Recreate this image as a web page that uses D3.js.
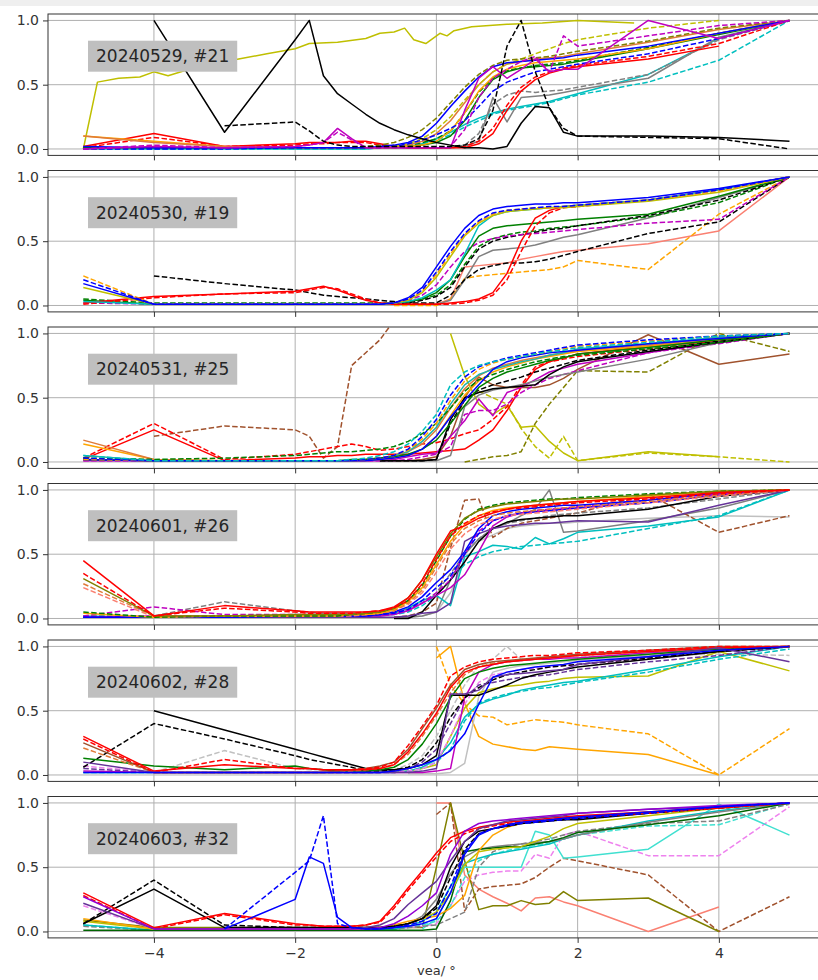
<!DOCTYPE html>
<html><head><meta charset="utf-8">
<script src="https://cdn.jsdelivr.net/npm/d3@7"></script>
<style>body{margin:0;background:#fff}svg{display:block}</style>
</head><body>
<svg id="chart" width="818" height="980"></svg>
<script>
const _ = null;

// shared sample positions (deg) for every curve
const xGrid = [-5,-4,-3,-2,-1.8,-1.6,-1.4,-1.2,-1,-0.8,-0.6,-0.4,-0.2,0,0.2,0.4,0.6,0.8,1,1.2,1.4,1.6,1.8,2,3,4,5];
const panelTitles = ["20240529, #21","20240530, #19","20240531, #25","20240601, #26","20240602, #28","20240603, #32"];
const xTicks = [-4,-2,0,2,4];
const yTicks = [0,0.5,1];
const xLabel = "vea/ °";

// densely sampled outlier curve of the first run
const run1YellowX = [-5,-4.8,-4.5,-4.2,-4,-3.8,-3.5,-3.2,-2.8,-2.4,-2,-1.8,-1.4,-1,-0.8,-0.6,-0.45,-0.32,-0.15,0.05,0.15,0.25,0.5,1,1.5,2,2.4,2.8];
const run1YellowY = [0.0,0.52,0.55,0.56,0.6,0.57,0.62,0.66,0.7,0.74,0.78,0.82,0.83,0.86,0.9,0.91,0.94,0.85,0.82,0.9,0.88,0.92,0.95,0.97,0.98,1.0,0.99,0.98];

const run1 = [
  ["c--",[0,0,0,0,0,0,0,0,0,0.01,0.01,0.02,0.04,0.07,0.11,0.17,0.22,0.27,0.3,0.32,0.34,0.36,0.39,0.42,0.52,0.69,1.0]],
  ["c-", [0,0,0,0,0,0,0,0,0,0.01,0.01,0.02,0.04,0.08,0.13,0.19,0.24,0.28,0.31,0.33,0.35,0.37,0.4,0.43,0.58,0.86,1.0]],
  ["gr--",[_,_,_,_,_,_,_,_,_,_,0.01,0.01,0.01,0.01,0.01,0.03,0.12,0.35,0.42,0.45,0.44,0.45,0.46,0.48,0.58,0.85,1.0]],
  ["gr-",[_,_,_,_,_,_,_,_,_,_,0.01,0.01,0.01,0.01,0.01,0.02,0.06,0.4,0.21,0.4,0.41,0.42,0.44,0.46,0.55,0.87,1.0]],
  ["r--",[0.01,0.09,0.02,0.03,0.04,0.04,0.05,0.05,0.05,0.03,0.02,0.01,0.01,0.01,0.01,0.02,0.06,0.16,0.34,0.48,0.56,0.6,0.63,0.65,0.72,0.82,1.0]],
  ["r-", [0.02,0.12,0.02,0.04,0.05,0.05,0.05,0.06,0.06,0.04,0.02,0.01,0.01,0.01,0.01,0.01,0.04,0.12,0.3,0.45,0.54,0.59,0.62,0.64,0.7,0.8,_]],
  ["g--",[0.01,0.01,0.01,0.01,0.01,0.01,0.01,0.01,0.01,0.01,0.02,0.03,0.05,0.08,0.14,0.28,0.44,0.55,0.61,0.63,0.65,0.66,0.67,0.69,0.79,0.9,1.0]],
  ["g-", [0.01,0.01,0.01,0.01,0.01,0.01,0.01,0.01,0.01,0.01,0.01,0.02,0.03,0.05,0.1,0.22,0.4,0.54,0.6,0.63,0.64,0.65,0.66,0.68,0.78,0.89,1.0]],
  ["o-", [0.1,0.06,0.02,0.01,0.01,0.01,0.01,0.01,0.01,0.01,0.01,0.02,0.03,0.06,0.14,0.28,0.45,0.56,0.62,0.65,0.67,0.68,0.69,0.7,0.78,0.9,1.0]],
  ["pe-",[0.1,0.05,0.02,0.01,0.01,0.01,0.01,0.01,0.01,0.01,0.02,0.03,0.06,0.12,0.22,0.36,0.5,0.6,0.66,0.68,0.7,0.71,0.72,0.74,0.83,0.93,1.0]],
  ["y--",[_,_,_,_,_,_,_,_,_,_,0.02,0.04,0.08,0.15,0.25,0.38,0.5,0.6,0.66,0.7,0.74,0.78,0.82,0.85,0.94,1.0,_]],
  ["ol--",[0.0,0.01,0.01,0.01,0.01,0.01,0.01,0.01,0.02,0.03,0.05,0.09,0.15,0.24,0.36,0.48,0.58,0.65,0.69,0.7,0.71,0.72,0.74,0.76,0.84,0.94,1.0]],
  ["b--",[0,0,0,0.01,0.01,0.01,0.01,0.01,0.01,0.01,0.02,0.04,0.07,0.11,0.16,0.22,0.33,0.45,0.52,0.56,0.6,0.62,0.64,0.66,0.74,0.86,1.0]],
  ["b-", [0.02,0.01,0.01,0.01,0.01,0.01,0.01,0.01,0.01,0.02,0.03,0.05,0.1,0.2,0.33,0.45,0.56,0.64,0.67,0.68,0.69,0.7,0.71,0.73,0.8,0.9,1.0]],
  ["m--",[0.0,0.03,0.01,0.02,0.03,0.05,0.13,0.07,0.01,0.01,0.01,0.01,0.01,0.01,0.02,0.15,0.4,0.55,0.62,0.68,0.72,0.6,0.88,0.8,0.88,0.96,1.0]],
  ["m-", [0.0,0.02,0.01,0.02,0.03,0.05,0.16,0.08,0.01,0.01,0.01,0.01,0.01,0.01,0.01,0.3,0.55,0.64,0.55,0.62,0.7,0.6,0.62,0.62,1.0,0.86,1.0]],
  ["k--",[_,_,0.18,0.21,0.14,0.06,0.03,0.02,0.02,0.02,0.02,0.02,0.02,0.02,0.02,0.03,0.08,0.3,0.8,1.0,0.6,0.32,0.16,0.1,0.09,0.08,0.0]],
  ["k-", [_,1.0,0.13,0.85,1.0,0.57,0.43,0.35,0.27,0.2,0.15,0.11,0.08,0.05,0.03,0.01,0.01,0.0,0.02,0.2,0.33,0.32,0.13,0.1,0.1,0.09,0.06]]
];

const run2 = [
  ["sa-",[_,_,_,_,_,_,_,_,_,_,0.01,0.01,0.01,0.01,0.05,0.3,0.31,0.32,0.33,0.36,0.38,0.4,0.42,0.43,0.48,0.58,1.0]],
  ["o--",[_,_,_,_,_,_,_,_,_,_,0.0,0.0,0.0,0.0,0.05,0.21,0.23,0.24,0.25,0.26,0.27,0.28,0.3,0.35,0.28,0.71,1.0]],
  ["gr-",[_,_,_,_,_,_,_,_,_,_,0.01,0.01,0.01,0.01,0.04,0.2,0.38,0.43,0.44,0.45,0.47,0.5,0.53,0.55,0.68,0.84,1.0]],
  ["k--",[_,0.23,0.17,0.12,0.1,0.08,0.07,0.06,0.05,0.04,0.03,0.02,0.02,0.02,0.08,0.2,0.28,0.31,0.33,0.33,0.34,0.36,0.39,0.42,0.56,0.65,1.0]],
  ["g--",[0.05,0.02,0.02,0.02,0.02,0.02,0.02,0.02,0.02,0.02,0.02,0.03,0.05,0.08,0.16,0.32,0.46,0.52,0.55,0.57,0.58,0.6,0.61,0.62,0.69,0.8,1.0]],
  ["k--",[_,_,_,_,_,_,_,_,_,_,0.01,0.02,0.04,0.07,0.14,0.3,0.44,0.5,0.53,0.55,0.57,0.59,0.6,0.62,0.7,0.82,1.0]],
  ["m--",[0.02,0.01,0.01,0.01,0.01,0.01,0.01,0.01,0.01,0.01,0.02,0.04,0.08,0.16,0.3,0.42,0.49,0.52,0.54,0.55,0.56,0.57,0.58,0.59,0.64,0.67,1.0]],
  ["g-", [0.04,0.01,0.01,0.01,0.01,0.01,0.01,0.01,0.01,0.01,0.02,0.03,0.05,0.1,0.2,0.38,0.54,0.6,0.62,0.63,0.64,0.65,0.66,0.67,0.71,0.85,1.0]],
  ["r--",[0.01,0.06,0.09,0.1,0.12,0.14,0.13,0.09,0.05,0.02,0.01,0.01,0.01,0.01,0.01,0.02,0.04,0.08,0.2,0.42,0.62,0.72,0.76,0.77,0.82,0.9,1.0]],
  ["r-", [0.02,0.07,0.09,0.11,0.13,0.15,0.12,0.08,0.04,0.02,0.01,0.01,0.01,0.01,0.02,0.03,0.05,0.1,0.25,0.5,0.68,0.74,0.77,0.78,0.82,0.9,1.0]],
  ["c-", [0.03,0.01,0.01,0.01,0.01,0.01,0.01,0.01,0.01,0.01,0.02,0.03,0.06,0.12,0.2,0.4,0.62,0.7,0.73,0.74,0.75,0.76,0.77,0.78,0.82,0.9,1.0]],
  ["y-", [0.14,0.01,0.01,0.01,0.01,0.01,0.01,0.01,0.01,0.01,0.02,0.04,0.1,0.22,0.38,0.54,0.64,0.7,0.73,0.74,0.75,0.76,0.76,0.77,0.81,0.88,1.0]],
  ["o--",[0.23,0.01,0.01,0.01,0.01,0.01,0.01,0.01,0.01,0.01,0.02,0.05,0.11,0.24,0.4,0.55,0.65,0.71,0.74,0.75,0.76,0.76,0.77,0.78,0.82,0.89,1.0]],
  ["b--",[0.2,0.01,0.01,0.01,0.01,0.01,0.01,0.01,0.01,0.01,0.02,0.05,0.12,0.26,0.42,0.56,0.66,0.72,0.74,0.75,0.76,0.77,0.77,0.78,0.82,0.9,1.0]],
  ["b-", [0.17,0.01,0.01,0.01,0.01,0.01,0.01,0.01,0.01,0.01,0.02,0.06,0.14,0.3,0.46,0.6,0.7,0.75,0.77,0.78,0.79,0.79,0.8,0.8,0.84,0.91,1.0]]
];

const run3 = [
  ["br--",[_,0.2,0.28,0.25,0.2,0.03,0.12,0.75,0.85,0.95,1.1,1.3,_,_,_,_,_,_,_,_,_,_,_,_,_,_,_]],
  ["y-", [_,_,_,_,_,_,_,_,_,_,_,_,_,_,1.0,0.67,0.45,0.37,0.44,0.27,0.28,0.16,0.07,0.01,0.08,0.04,_]],
  ["y--",[_,_,_,_,_,_,_,_,_,_,_,_,_,_,_,_,0.55,0.5,0.45,0.26,0.12,0.03,0.2,0.01,0.07,0.04,0.0]],
  ["ol--",[_,_,_,_,_,_,_,_,_,_,_,_,_,_,_,0.0,0.02,0.04,0.05,0.08,0.3,0.45,0.58,0.71,0.7,1.0,0.86]],
  ["br-",[_,_,_,_,_,_,_,_,_,_,0.01,0.01,0.02,0.04,0.2,0.5,0.66,0.6,0.58,0.58,0.58,0.6,0.65,0.72,0.99,0.76,0.84]],
  ["r--",[0.03,0.3,0.02,0.06,0.08,0.1,0.12,0.14,0.12,0.09,0.1,0.12,0.14,0.15,0.18,0.22,0.25,0.33,0.43,0.6,0.74,0.78,0.8,0.82,0.88,0.93,1.0]],
  ["r-", [0.02,0.25,0.01,0.03,0.04,0.04,0.05,0.05,0.06,0.06,0.06,0.06,0.07,0.08,0.09,0.1,0.17,0.25,0.4,0.58,0.72,0.78,0.81,0.84,0.9,0.94,1.0]],
  ["m--",[0.01,0.01,0.01,0.01,0.01,0.01,0.01,0.01,0.01,0.01,0.01,0.02,0.04,0.06,0.12,0.37,0.4,0.4,0.45,0.54,0.6,0.65,0.68,0.71,0.85,0.92,1.0]],
  ["m-", [0.01,0.01,0.01,0.01,0.01,0.01,0.01,0.01,0.01,0.01,0.02,0.04,0.06,0.07,0.2,0.32,0.49,0.36,0.54,0.58,0.64,0.7,0.73,0.76,0.85,0.94,1.0]],
  ["gr-",[_,_,_,_,_,_,_,_,_,0.01,0.01,0.01,0.01,0.01,0.05,0.43,0.52,0.56,0.58,0.6,0.63,0.66,0.68,0.7,0.8,0.93,1.0]],
  ["k-", [_,_,_,_,_,_,_,_,_,0.01,0.01,0.01,0.01,0.02,0.33,0.5,0.54,0.57,0.58,0.59,0.6,0.68,0.74,0.78,0.86,0.93,1.0]],
  ["k--",[_,_,_,_,_,_,_,_,_,0.01,0.01,0.01,0.01,0.02,0.3,0.48,0.56,0.6,0.63,0.66,0.7,0.73,0.76,0.79,0.87,0.94,1.0]],
  ["o-", [0.14,0.02,0.01,0.01,0.01,0.01,0.01,0.01,0.01,0.02,0.03,0.05,0.1,0.2,0.36,0.52,0.63,0.7,0.74,0.77,0.8,0.82,0.84,0.86,0.9,0.95,1.0]],
  ["pe-",[0.17,0.02,0.01,0.01,0.01,0.01,0.01,0.01,0.02,0.03,0.05,0.08,0.14,0.25,0.42,0.57,0.67,0.73,0.76,0.79,0.81,0.83,0.85,0.87,0.91,0.96,1.0]],
  ["te-",[0.05,0.01,0.01,0.01,0.01,0.01,0.01,0.01,0.02,0.03,0.05,0.08,0.16,0.27,0.45,0.6,0.68,0.72,0.75,0.78,0.8,0.83,0.85,0.88,0.92,0.97,1.0]],
  ["g-", [0.02,0.01,0.01,0.01,0.01,0.01,0.01,0.02,0.02,0.03,0.04,0.06,0.1,0.17,0.3,0.44,0.58,0.65,0.7,0.73,0.76,0.79,0.81,0.84,0.89,0.95,1.0]],
  ["g--",[0.03,0.02,0.03,0.05,0.06,0.07,0.08,0.08,0.09,0.1,0.12,0.16,0.22,0.3,0.42,0.55,0.64,0.68,0.72,0.75,0.78,0.8,0.82,0.83,0.88,0.93,1.0]],
  ["b-", [0.02,0.01,0.01,0.01,0.01,0.01,0.01,0.01,0.01,0.02,0.03,0.05,0.1,0.2,0.35,0.48,0.6,0.72,0.78,0.81,0.83,0.85,0.86,0.87,0.92,0.96,1.0]],
  ["o--",[0.02,0.01,0.01,0.01,0.01,0.01,0.01,0.01,0.02,0.03,0.05,0.09,0.18,0.3,0.48,0.63,0.72,0.77,0.8,0.82,0.84,0.86,0.88,0.9,0.94,0.98,1.0]],
  ["b--",[0.03,0.01,0.01,0.01,0.01,0.01,0.01,0.01,0.02,0.03,0.05,0.1,0.2,0.33,0.52,0.66,0.74,0.78,0.81,0.83,0.85,0.87,0.89,0.91,0.95,0.98,1.0]],
  ["c--",[0.05,0.01,0.01,0.01,0.01,0.01,0.01,0.02,0.03,0.05,0.08,0.14,0.24,0.37,0.6,0.7,0.75,0.78,0.8,0.82,0.84,0.86,0.87,0.89,0.93,0.98,1.0]]
];

const run4 = [
  ["lg-",[_,_,_,_,_,_,_,_,_,_,0.01,0.01,0.02,0.05,0.2,0.45,0.6,0.65,0.7,0.72,0.73,0.74,0.74,0.75,0.78,0.8,0.79]],
  ["gr-",[_,_,_,_,_,_,_,_,_,_,0.01,0.01,0.02,0.05,0.3,0.5,0.62,0.7,0.74,0.8,0.85,1.0,0.67,0.68,0.76,0.86,1.0]],
  ["br--",[_,_,_,_,_,_,_,_,_,_,0.01,0.02,0.05,0.12,0.55,0.92,0.93,0.63,0.7,0.74,0.76,0.78,0.8,0.82,0.97,0.67,0.8]],
  ["c--",[0.02,0.01,0.01,0.01,0.01,0.01,0.01,0.01,0.01,0.02,0.03,0.05,0.1,0.18,0.3,0.42,0.48,0.52,0.54,0.56,0.57,0.58,0.59,0.6,0.7,0.8,1.0]],
  ["c-", [0.02,0.01,0.01,0.01,0.01,0.01,0.01,0.01,0.01,0.02,0.04,0.08,0.14,0.18,0.1,0.48,0.52,0.57,0.56,0.54,0.63,0.58,0.62,0.67,0.72,0.79,1.0]],
  ["gr--",[0.02,0.02,0.13,0.06,0.05,0.04,0.04,0.04,0.04,0.04,0.05,0.07,0.12,0.2,0.35,0.5,0.62,0.7,0.74,0.76,0.78,0.8,0.81,0.82,0.86,0.93,1.0]],
  ["k-", [_,_,_,_,_,_,_,_,_,_,0.0,0.0,0.05,0.18,0.3,0.44,0.6,0.7,0.75,0.77,0.78,0.79,0.8,0.8,0.85,0.95,1.0]],
  ["pu-",[0.01,0.01,0.01,0.01,0.01,0.01,0.01,0.01,0.01,0.01,0.01,0.02,0.04,0.05,0.12,0.6,0.66,0.7,0.72,0.73,0.74,0.74,0.75,0.76,0.75,0.88,1.0]],
  ["m--",[0.02,0.09,0.03,0.03,0.03,0.03,0.03,0.03,0.03,0.03,0.04,0.07,0.12,0.2,0.3,0.5,0.68,0.76,0.8,0.82,0.84,0.85,0.86,0.87,0.92,0.97,1.0]],
  ["m-", [0.01,0.02,0.02,0.02,0.02,0.02,0.02,0.02,0.02,0.02,0.03,0.06,0.12,0.18,0.24,0.34,0.52,0.72,0.79,0.82,0.83,0.84,0.85,0.86,0.9,0.96,1.0]],
  ["b--",[0.01,0.01,0.01,0.02,0.02,0.02,0.02,0.02,0.02,0.03,0.04,0.07,0.14,0.24,0.33,0.5,0.66,0.76,0.8,0.82,0.83,0.84,0.85,0.86,0.9,0.96,1.0]],
  ["b-", [0.01,0.01,0.01,0.02,0.02,0.02,0.02,0.02,0.02,0.03,0.05,0.09,0.17,0.28,0.38,0.52,0.7,0.8,0.83,0.85,0.86,0.87,0.88,0.88,0.92,0.98,1.0]],
  ["sa--",[0.24,0.01,0.02,0.02,0.02,0.02,0.02,0.02,0.03,0.04,0.06,0.11,0.2,0.36,0.54,0.66,0.73,0.77,0.8,0.81,0.82,0.83,0.84,0.85,0.9,0.95,1.0]],
  ["pe--",[0.27,0.02,0.02,0.02,0.02,0.02,0.03,0.03,0.03,0.04,0.06,0.12,0.22,0.4,0.58,0.7,0.76,0.8,0.82,0.83,0.84,0.85,0.86,0.87,0.91,0.96,1.0]],
  ["o-", [0.04,0.01,0.02,0.02,0.02,0.02,0.02,0.03,0.03,0.04,0.07,0.13,0.24,0.42,0.6,0.73,0.8,0.84,0.86,0.87,0.88,0.89,0.9,0.91,0.95,0.99,1.0]],
  ["g--",[0.05,0.01,0.02,0.02,0.02,0.02,0.02,0.03,0.04,0.05,0.08,0.14,0.26,0.45,0.64,0.77,0.85,0.88,0.9,0.91,0.92,0.93,0.93,0.94,0.97,0.99,1.0]],
  ["ol-",[0.31,0.02,0.02,0.03,0.03,0.03,0.03,0.03,0.04,0.05,0.08,0.16,0.3,0.48,0.66,0.78,0.84,0.87,0.89,0.9,0.91,0.92,0.93,0.93,0.96,0.99,1.0]],
  ["r--",[0.35,0.02,0.08,0.05,0.04,0.04,0.04,0.04,0.05,0.06,0.08,0.14,0.27,0.46,0.64,0.74,0.8,0.83,0.85,0.86,0.87,0.88,0.89,0.9,0.93,0.97,1.0]],
  ["r-", [0.45,0.02,0.1,0.06,0.05,0.05,0.05,0.05,0.05,0.06,0.09,0.16,0.3,0.5,0.68,0.72,0.78,0.82,0.85,0.87,0.88,0.89,0.9,0.91,0.94,0.98,1.0]]
];

const run5 = [
  ["o-", [_,_,_,_,_,_,_,_,_,_,_,_,_,0.91,1.0,0.56,0.3,0.24,0.22,0.2,0.19,0.22,0.21,0.2,0.16,0.0,_]],
  ["o--",[_,_,_,_,_,_,_,_,_,_,_,_,_,1.0,0.7,0.55,0.46,0.45,0.39,0.41,0.43,0.42,0.41,0.39,0.32,0.0,0.36]],
  ["lg--",[_,0.02,0.19,0.05,0.04,0.04,0.03,0.03,0.03,0.03,0.04,0.08,0.15,0.3,0.5,0.7,0.85,0.9,1.0,0.9,0.9,0.91,0.92,0.92,0.93,0.94,0.93]],
  ["lg-",[_,_,_,_,_,_,_,_,_,_,_,0.01,0.01,0.01,0.02,0.09,0.61,0.8,0.83,0.85,0.86,0.87,0.88,0.89,0.93,0.97,1.0]],
  ["y-", [_,_,_,_,_,_,_,_,_,_,0.02,0.03,0.05,0.08,0.3,0.52,0.64,0.67,0.69,0.7,0.72,0.73,0.75,0.76,0.77,0.96,0.81]],
  ["c--",[0.02,0.02,0.02,0.02,0.02,0.02,0.02,0.02,0.02,0.02,0.02,0.03,0.05,0.1,0.2,0.42,0.56,0.6,0.63,0.65,0.67,0.68,0.7,0.72,0.8,0.9,0.98]],
  ["c-", [0.02,0.02,0.02,0.02,0.02,0.02,0.02,0.02,0.02,0.02,0.02,0.03,0.06,0.12,0.25,0.45,0.55,0.59,0.62,0.66,0.68,0.7,0.72,0.73,0.82,0.92,1.0]],
  ["vi--",[0.07,0.02,0.02,0.02,0.02,0.02,0.02,0.02,0.02,0.02,0.02,0.03,0.05,0.1,0.3,0.55,0.72,0.78,0.8,0.82,0.83,0.84,0.85,0.86,0.9,0.96,1.0]],
  ["pu--",[0.05,0.02,0.02,0.02,0.02,0.02,0.02,0.02,0.02,0.02,0.03,0.05,0.1,0.2,0.4,0.6,0.7,0.72,0.74,0.76,0.77,0.78,0.8,0.82,0.88,0.93,1.0]],
  ["m-", [0.03,0.02,0.02,0.02,0.02,0.02,0.02,0.02,0.02,0.02,0.02,0.02,0.02,0.03,0.05,0.6,0.8,0.86,0.88,0.89,0.9,0.9,0.91,0.91,0.95,0.98,1.0]],
  ["k--",[0.06,0.4,0.28,0.15,0.12,0.1,0.08,0.06,0.03,0.03,0.04,0.06,0.12,0.25,0.45,0.6,0.68,0.74,0.78,0.8,0.82,0.84,0.85,0.86,0.91,0.96,1.0]],
  ["k-", [_,0.5,0.35,0.2,0.17,0.14,0.11,0.08,0.05,0.04,0.04,0.05,0.08,0.15,0.62,0.62,0.62,0.66,0.7,0.75,0.78,0.8,0.82,0.84,0.9,0.96,1.0]],
  ["g-", [0.13,0.07,0.04,0.07,0.05,0.04,0.03,0.03,0.03,0.04,0.06,0.12,0.24,0.4,0.6,0.75,0.8,0.83,0.85,0.86,0.87,0.88,0.89,0.9,0.94,0.98,1.0]],
  ["pe--",[0.21,0.02,0.02,0.02,0.02,0.02,0.02,0.03,0.04,0.05,0.08,0.16,0.3,0.46,0.64,0.78,0.84,0.87,0.88,0.89,0.9,0.91,0.92,0.93,0.96,0.99,1.0]],
  ["br-",[0.25,0.02,0.02,0.02,0.02,0.02,0.03,0.04,0.05,0.07,0.1,0.2,0.36,0.52,0.7,0.82,0.86,0.88,0.89,0.9,0.91,0.92,0.93,0.94,0.97,1.0,1.0]],
  ["r-", [0.3,0.03,0.08,0.05,0.05,0.04,0.04,0.04,0.04,0.05,0.08,0.18,0.32,0.48,0.68,0.8,0.84,0.86,0.88,0.89,0.9,0.91,0.92,0.93,0.96,0.99,1.0]],
  ["r--",[0.28,0.02,0.12,0.05,0.05,0.04,0.04,0.04,0.05,0.06,0.1,0.23,0.38,0.54,0.77,0.84,0.88,0.9,0.91,0.92,0.93,0.93,0.94,0.95,0.97,1.0,1.0]],
  ["pu-",[0.1,0.02,0.02,0.02,0.02,0.02,0.02,0.02,0.02,0.02,0.02,0.02,0.03,0.05,0.63,0.63,0.66,0.76,0.78,0.79,0.8,0.81,0.82,0.86,0.92,0.99,0.88]],
  ["b-", [0.02,0.02,0.02,0.02,0.02,0.02,0.02,0.02,0.02,0.02,0.03,0.05,0.08,0.12,0.19,0.32,0.55,0.76,0.8,0.82,0.84,0.85,0.86,0.88,0.92,0.97,1.0]]
];

const run6 = [
  ["sa-",[_,_,_,_,_,_,_,_,_,_,_,_,_,1.0,1.0,0.44,0.33,0.27,0.22,0.16,0.26,0.27,0.23,0.2,0.0,0.19,_]],
  ["br--",[_,_,_,_,_,_,_,_,_,_,_,_,_,0.91,1.0,0.16,0.33,0.35,0.36,0.37,0.42,0.5,0.57,0.55,0.44,0.0,0.27]],
  ["ol-",[0.09,0.03,0.03,0.03,0.03,0.03,0.03,0.03,0.03,0.03,0.03,0.03,0.03,0.5,1.0,0.55,0.17,0.2,0.2,0.24,0.21,0.22,0.31,0.24,0.26,0.0,_]],
  ["vi--",[0.2,0.02,0.02,0.02,0.02,0.02,0.02,0.02,0.02,0.02,0.02,0.03,0.04,0.06,0.2,0.39,0.44,0.46,0.47,0.47,0.6,0.57,0.75,0.78,0.59,0.59,0.97]],
  ["tq--",[0.05,0.01,0.01,0.01,0.01,0.01,0.01,0.01,0.01,0.01,0.02,0.03,0.05,0.08,0.2,0.42,0.55,0.6,0.63,0.65,0.67,0.69,0.72,0.75,0.82,0.83,1.0]],
  ["tq-",[_,_,_,_,_,_,_,_,_,_,_,_,0.02,0.1,0.3,0.5,0.5,0.5,0.5,0.5,0.78,0.75,0.57,0.58,0.64,0.99,0.75]],
  ["gr--",[0.04,0.01,0.01,0.01,0.01,0.01,0.01,0.01,0.01,0.01,0.02,0.03,0.04,0.05,0.1,0.15,0.5,0.62,0.66,0.68,0.7,0.72,0.75,0.78,0.84,0.86,0.99]],
  ["c-", [0.05,0.01,0.01,0.01,0.01,0.01,0.01,0.01,0.01,0.01,0.02,0.04,0.08,0.15,0.35,0.53,0.57,0.6,0.62,0.64,0.66,0.68,0.72,0.75,0.86,0.94,1.0]],
  ["gr-",[_,_,_,_,_,_,_,_,_,_,0.03,0.06,0.12,0.25,0.45,0.58,0.64,0.66,0.67,0.68,0.69,0.7,0.72,0.75,0.85,0.93,1.0]],
  ["dg-",[0.01,0.01,0.01,0.01,0.01,0.01,0.01,0.01,0.01,0.01,0.01,0.01,0.01,0.02,0.24,0.62,0.64,0.65,0.66,0.66,0.68,0.7,0.73,0.77,0.83,0.9,1.0]],
  ["y-", [0.08,0.02,0.02,0.02,0.02,0.02,0.02,0.02,0.02,0.03,0.04,0.06,0.1,0.15,0.3,0.52,0.62,0.64,0.65,0.66,0.7,0.74,0.8,0.84,0.9,0.96,1.0]],
  ["o-", [0.1,0.02,0.02,0.02,0.02,0.02,0.02,0.02,0.02,0.03,0.05,0.08,0.1,0.12,0.18,0.28,0.63,0.75,0.81,0.84,0.86,0.87,0.88,0.89,0.93,0.97,1.0]],
  ["k--",[0.06,0.4,0.05,0.03,0.03,0.03,0.03,0.03,0.03,0.03,0.04,0.06,0.1,0.18,0.42,0.64,0.76,0.8,0.82,0.84,0.85,0.86,0.87,0.88,0.92,0.96,1.0]],
  ["k-", [0.06,0.33,0.03,0.03,0.03,0.03,0.03,0.03,0.03,0.03,0.04,0.06,0.1,0.2,0.5,0.7,0.78,0.8,0.82,0.84,0.85,0.86,0.87,0.87,0.92,0.97,1.0]],
  ["r--",[0.28,0.02,0.13,0.05,0.05,0.04,0.04,0.04,0.05,0.07,0.18,0.32,0.45,0.58,0.7,0.76,0.8,0.82,0.84,0.85,0.86,0.87,0.88,0.89,0.92,0.96,1.0]],
  ["r-", [0.3,0.03,0.14,0.06,0.05,0.04,0.04,0.04,0.05,0.08,0.2,0.34,0.47,0.61,0.73,0.78,0.81,0.83,0.85,0.86,0.87,0.88,0.89,0.9,0.93,0.96,1.0]],
  ["pu-",[0.22,0.02,0.02,0.02,0.02,0.02,0.02,0.02,0.03,0.05,0.1,0.21,0.3,0.39,0.55,0.7,0.8,0.83,0.86,0.87,0.88,0.89,0.9,0.92,0.95,0.97,1.0]],
  ["dv-",[0.27,0.02,0.02,0.02,0.02,0.02,0.02,0.02,0.02,0.03,0.06,0.12,0.2,0.3,0.6,0.78,0.84,0.86,0.87,0.88,0.89,0.9,0.91,0.92,0.95,0.98,1.0]],
  ["b--",[_,_,0.02,0.46,0.55,0.9,0.06,0.03,0.02,0.02,0.03,0.05,0.08,0.14,0.35,0.62,0.76,0.8,0.82,0.84,0.85,0.86,0.87,0.88,0.92,0.97,1.0]],
  ["b-", [_,_,0.02,0.25,0.58,0.53,0.11,0.03,0.02,0.02,0.03,0.04,0.06,0.1,0.3,0.6,0.75,0.8,0.83,0.85,0.86,0.87,0.88,0.89,0.93,0.97,1.0]]
];

const runs = [run1, run2, run3, run4, run5, run6];

// colour codes used in the series keys
const palette = {
  k:"#000000", r:"#ff0000", b:"#0000ff", g:"#008000", m:"#bf00bf", c:"#00bfbf",
  y:"#bfbf00", o:"#ffa500", gr:"#808080", lg:"#c0c0c0", br:"#a0522d", ol:"#808000",
  pu:"#663399", dv:"#9400d3", sa:"#fa8072", tq:"#40e0d0", vi:"#ee82ee", pe:"#e07b39",
  te:"#20b2aa", dg:"#006400"
};
function styleOf(key) {
  const dashed = key.endsWith("--");
  const code = key.replace(/-+$/, "");
  return { color: palette[code], dashed };
}

const W = 818, H = 980;
const left = 48, right = 824.8;
const panelTop0 = 14, panelStep = 156.5, panelH = 141.4;
const fontFamily = "DejaVu Sans, sans-serif";

const svg = d3.select("#chart");
svg.append("rect").attr("width", W).attr("height", H).attr("fill", "#fff");
svg.append("rect").attr("width", W).attr("height", 6).attr("fill", "#efefef");

const x = d3.scaleLinear().domain([-5.5, 5.5]).range([left, right]);
const y = d3.scaleLinear().domain([-0.05, 1.05]).range([panelH, 0]);

const line = d3.line()
  .defined(d => d[1] !== null)
  .x(d => x(d[0]))
  .y(d => y(d[1]));

runs.forEach((series, i) => {
  const top = panelTop0 + i * panelStep;
  const g = svg.append("g").attr("transform", `translate(0,${top})`);

  const clipId = "clip" + i;
  g.append("clipPath").attr("id", clipId)
    .append("rect").attr("x", left).attr("y", 0).attr("width", right - left).attr("height", panelH);

  // grid
  const grid = g.append("g");
  grid.selectAll("line.vx").data(xTicks).join("line")
    .attr("x1", d => x(d)).attr("x2", d => x(d)).attr("y1", 0).attr("y2", panelH)
    .attr("stroke", "#b0b0b0").attr("stroke-width", 1);
  grid.selectAll("line.hy").data(yTicks).join("line")
    .attr("x1", left).attr("x2", right).attr("y1", d => y(d)).attr("y2", d => y(d))
    .attr("stroke", "#b0b0b0").attr("stroke-width", 1);

  // curves
  const plot = g.append("g").attr("clip-path", `url(#${clipId})`);
  if (i === 0) {
    plot.append("path")
      .attr("d", line(run1YellowX.map((xv, k) => [xv, run1YellowY[k]])))
      .attr("fill", "none").attr("stroke", palette.y).attr("stroke-width", 1.5)
      .attr("stroke-linejoin", "round");
  }
  series.forEach(([key, vals]) => {
    const st = styleOf(key);
    plot.append("path")
      .attr("d", line(xGrid.map((xv, k) => [xv, vals[k]])))
      .attr("fill", "none")
      .attr("stroke", st.color)
      .attr("stroke-width", 1.5)
      .attr("stroke-linejoin", "round")
      .attr("stroke-dasharray", st.dashed ? "5.5,2.4" : null);
  });

  // title box
  const tg = g.append("g");
  const txt = tg.append("text")
    .attr("x", 96).attr("y", 48)
    .attr("font-family", fontFamily).attr("font-size", 17).attr("fill", "#262626")
    .text(panelTitles[i]);
  const bb = txt.node().getBBox();
  tg.insert("rect", "text")
    .attr("x", bb.x - 8).attr("y", 26.7).attr("width", bb.width + 16).attr("height", 31)
    .attr("fill", "#bfbfbf");

  // frame
  g.append("rect").attr("x", left).attr("y", 0).attr("width", right - left).attr("height", panelH)
    .attr("fill", "none").attr("stroke", "#333").attr("stroke-width", 1);

  // y axis
  const yAxis = d3.axisLeft(y).tickValues(yTicks).tickFormat(d3.format(".1f")).tickSize(5).tickPadding(4);
  const ya = g.append("g").attr("transform", `translate(${left},0)`).call(yAxis);
  ya.select(".domain").remove();
  ya.selectAll("text").attr("font-family", fontFamily).attr("font-size", 14).attr("fill", "#333");
  ya.selectAll("line").attr("stroke", "#333");

  // x axis
  const xAxis = d3.axisBottom(x).tickValues(xTicks).tickSize(5).tickPadding(5)
    .tickFormat(i === runs.length - 1 ? (d => d < 0 ? "\u2212" + Math.abs(d) : String(d)) : "");
  const xa = g.append("g").attr("transform", `translate(0,${panelH})`).call(xAxis);
  xa.select(".domain").remove();
  xa.selectAll("text").attr("font-family", fontFamily).attr("font-size", 14).attr("fill", "#333");
  xa.selectAll("line").attr("stroke", "#333");
});

svg.append("text")
  .attr("x", x(0)).attr("y", 975)
  .attr("text-anchor", "middle")
  .attr("font-family", fontFamily).attr("font-size", 13).attr("fill", "#333")
  .text(xLabel);
</script>
</body></html>
